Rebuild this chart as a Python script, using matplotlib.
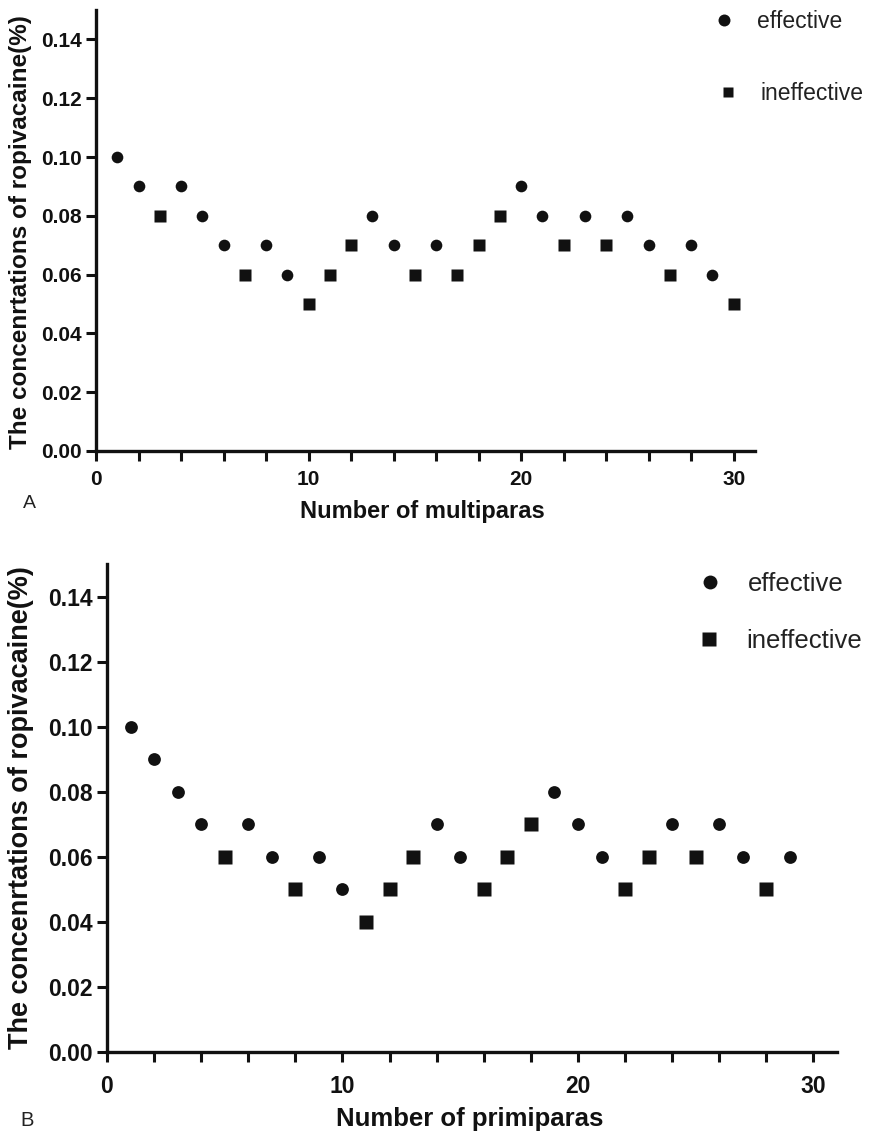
import matplotlib.pyplot as plt
from matplotlib.ticker import MultipleLocator, FormatStrFormatter
from matplotlib.lines import Line2D

plt.rcParams['font.family'] = ['Liberation Sans', 'DejaVu Sans']

# panel A: multiparas
multi_n = list(range(1, 31))
multi_conc = [0.10, 0.09, 0.08, 0.09, 0.08, 0.07, 0.06, 0.07, 0.06, 0.05,
              0.06, 0.07, 0.08, 0.07, 0.06, 0.07, 0.06, 0.07, 0.08, 0.09,
              0.08, 0.07, 0.08, 0.07, 0.08, 0.07, 0.06, 0.07, 0.06, 0.05]
multi_eff = [1, 1, 0, 1, 1, 1, 0, 1, 1, 0,
             0, 0, 1, 1, 0, 1, 0, 0, 0, 1,
             1, 0, 1, 0, 1, 1, 0, 1, 1, 0]

# panel B: primiparas
primi_n = list(range(1, 30))
primi_conc = [0.10, 0.09, 0.08, 0.07, 0.06, 0.07, 0.06, 0.05, 0.06, 0.05,
              0.04, 0.05, 0.06, 0.07, 0.06, 0.05, 0.06, 0.07, 0.08, 0.07,
              0.06, 0.05, 0.06, 0.07, 0.06, 0.07, 0.06, 0.05, 0.06]
primi_eff = [1, 1, 1, 1, 0, 1, 1, 0, 1, 1,
             0, 0, 0, 1, 1, 0, 0, 0, 1, 1,
             1, 0, 0, 1, 0, 1, 1, 0, 1]

labels = ['effective', 'ineffective']
ylab = 'The concenrtations of ropivacaine(%)'

W, H = 870, 1133
fig = plt.figure(figsize=(W / 100, H / 100), dpi=100)


def px_axes(l, t, r, b):
    return fig.add_axes([l / W, 1 - b / H, (r - l) / W, (b - t) / H])


def fx(x):
    return x / W


def fy(y):
    return 1 - y / H


def panel(ax, n, conc, eff, xlabel, ms_o, ms_s, tsize, lsize, xpad, ysize):
    xe = [x for x, e in zip(n, eff) if e]
    ye = [y for y, e in zip(conc, eff) if e]
    xi = [x for x, e in zip(n, eff) if not e]
    yi = [y for y, e in zip(conc, eff) if not e]
    ax.plot(xe, ye, 'o', color='#111111', ms=ms_o, mec='none', clip_on=False)
    ax.plot(xi, yi, 's', color='#111111', ms=ms_s, mec='none', clip_on=False)
    ax.set_xlim(0, 31)
    ax.set_ylim(0, 0.15)
    ax.xaxis.set_major_locator(MultipleLocator(10))
    ax.xaxis.set_minor_locator(MultipleLocator(2))
    ax.yaxis.set_major_locator(MultipleLocator(0.02))
    ax.yaxis.set_major_formatter(FormatStrFormatter('%.2f'))
    for s in ['top', 'right']:
        ax.spines[s].set_visible(False)
    for s in ['left', 'bottom']:
        ax.spines[s].set_linewidth(2.4)
        ax.spines[s].set_color('#111111')
    ax.tick_params(which='both', direction='out', width=2.2, length=7,
                   labelsize=tsize, pad=3, color='#111111')
    ax.tick_params(axis='x', which='major', pad=xpad)
    for lab in ax.get_xticklabels() + ax.get_yticklabels():
        lab.set_fontweight('bold')
        lab.set_color('#111111')
    ax.set_xlabel(xlabel, fontsize=lsize, fontweight='bold', color='#111111')
    ax.set_ylabel(ylab, fontsize=ysize, fontweight='bold', color='#111111')


axA = px_axes(96, 10, 755, 451)
panel(axA, multi_n, multi_conc, multi_eff, 'Number of multiparas',
      8.4, 8.8, 15, 17, 6.5, 17.5)
axA.xaxis.set_label_coords(0.495, -0.111)
axA.yaxis.set_label_coords(-0.097, 0.497)

axB = px_axes(107, 564, 837, 1052)
panel(axB, primi_n, primi_conc, primi_eff, 'Number of primiparas',
      9.2, 9.6, 16.5, 18.5, 9.5, 19.5)
axB.xaxis.set_label_coords(0.497, -0.113)
axB.yaxis.set_label_coords(-0.1, 0.5)

# legends drawn in figure space
legA = [(724, 20, 'o', 8.6, 757), (728, 92, 's', 7.2, 761)]
for (x, y, m, ms, tx), lab in zip(legA, labels):
    fig.add_artist(Line2D([fx(x)], [fy(y)], marker=m, ms=ms, color='#111111',
                          mec='none', transform=fig.transFigure))
    fig.text(fx(tx), fy(y + 2), lab, fontsize=16.5, va='center', ha='left',
             color='#222222')

legB = [(710, 582, 'o', 10, 748), (709, 639, 's', 9.8, 746)]
for (x, y, m, ms, tx), lab in zip(legB, labels):
    fig.add_artist(Line2D([fx(x)], [fy(y)], marker=m, ms=ms, color='#111111',
                          mec='none', transform=fig.transFigure))
    fig.text(fx(tx), fy(y + 2), lab, fontsize=18.5, va='center', ha='left',
             color='#222222')

fig.text(fx(29), fy(504), 'A', fontsize=14, va='center', ha='center',
         color='#222222')
fig.text(fx(27), fy(1120), 'B', fontsize=14.5, va='center', ha='center',
         color='#222222')

fig.savefig('out.png', dpi=100, facecolor='white')
